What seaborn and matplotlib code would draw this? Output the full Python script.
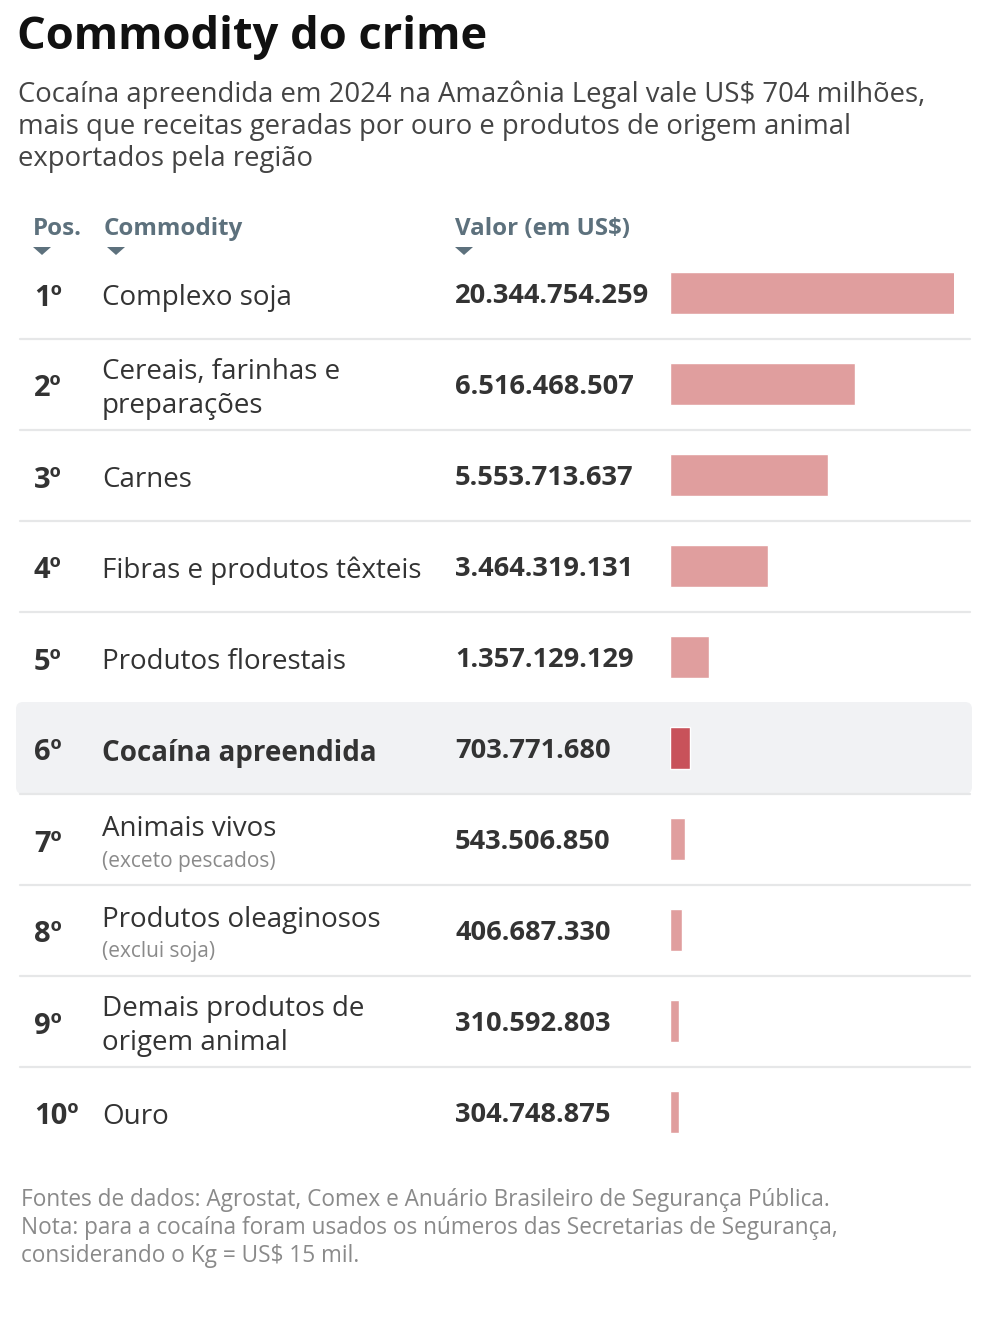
import matplotlib
matplotlib.use("Agg")
import matplotlib.pyplot as plt
from matplotlib.patches import FancyBboxPatch, Polygon
import seaborn as sns
import pandas as pd

# data
posicoes = ["1º", "2º", "3º", "4º", "5º", "6º", "7º", "8º", "9º", "10º"]
commodities = [
    "Complexo soja",
    "Cereais, farinhas e\npreparações",
    "Carnes",
    "Fibras e produtos têxteis",
    "Produtos florestais",
    "Cocaína apreendida",
    "Animais vivos",
    "Produtos oleaginosos",
    "Demais produtos de\norigem animal",
    "Ouro",
]
notas = ["", "", "", "", "", "", "(exceto pescados)", "(exclui soja)", "", ""]
valores = [20344754259, 6516468507, 5553713637, 3464319131, 1357129129,
           703771680, 543506850, 406687330, 310592803, 304748875]
destaque = [False] * 5 + [True] + [False] * 4

titulo = "Commodity do crime"
subtitulo = ("Cocaína apreendida em 2024 na Amazônia Legal vale US$ 704 milhões,\n"
             "mais que receitas geradas por ouro e produtos de origem animal\n"
             "exportados pela região")
rodape = ("Fontes de dados: Agrostat, Comex e Anuário Brasileiro de Segurança Pública.\n"
          "Nota: para a cocaína foram usados os números das Secretarias de Segurança,\n"
          "considerando o Kg = US$ 15 mil.")

df = pd.DataFrame({"pos": posicoes, "commodity": commodities, "valor": valores,
                   "destaque": destaque})

sns.set_style("white")
plt.rcParams["font.family"] = ["Open Sans", "DejaVu Sans"]

W, H = 984, 1333
fig = plt.figure(figsize=(W / 100, H / 100), dpi=100)

# background axes in pixel coords
bg = fig.add_axes([0, 0, 1, 1])
bg.set_xlim(0, W)
bg.set_ylim(H, 0)
bg.axis("off")

dark = "#333333"
slate = "#5d717d"
grey = "#8a8a8a"

bg.text(17, 38, titulo, fontsize=32.6, fontweight="bold", color="#111111", va="center")
bg.text(18, 127, subtitulo, fontsize=19.8, color="#444444", va="center", linespacing=1.2)

# header
for x, lab in [(33, "Pos."), (104, "Commodity"), (455, "Valor (em US$)")]:
    bg.text(x, 229, lab, fontsize=17.4, fontweight="bold", color=slate, va="center")
for x in [42, 116, 464]:
    bg.add_patch(Polygon([(x - 9, 247), (x + 9, 247), (x, 255)], closed=True,
                         facecolor=slate, edgecolor="none"))

row0, pitch = 293, 91
n = len(df)

# highlighted row
hi = df.index[df["destaque"]][0]
yc = row0 + hi * pitch
bg.add_patch(FancyBboxPatch((16, yc - 46), 956, 92,
                            boxstyle="round,pad=0,rounding_size=7",
                            facecolor="#f1f2f4", edgecolor="none", zorder=0))

# separators
for i in range(n - 1):
    if i == hi - 1:
        continue
    y = row0 + (i + 0.5) * pitch
    bg.plot([20, 970], [y, y], color="#e6e7e8", lw=1.6, zorder=1)

def fmt(v):
    return f"{v:,}".replace(",", ".")

for i, r in df.iterrows():
    y = row0 + i * pitch
    w = "bold" if r["destaque"] else "normal"
    bg.text(34, y + 5, r["pos"], fontsize=21, fontweight="bold", color=dark, va="center")
    if notas[i]:
        bg.text(102, y - 10, r["commodity"], fontsize=20, color=dark, va="center")
        bg.text(102, y + 22, notas[i], fontsize=15, color=grey, va="center")
    else:
        bg.text(102, y + 5, r["commodity"], fontsize=20, color=dark, va="center",
                fontweight=w, linespacing=1.25)
    bg.text(455, y + 3, fmt(r["valor"]), fontsize=19.6, fontweight="bold", color=dark,
            va="center")

bg.text(21, 1228, rodape, fontsize=16.3, color=grey, va="center", linespacing=1.2)

# bars
top = row0 - pitch / 2
bot = row0 + (n - 0.5) * pitch
ax = fig.add_axes([670 / W, 1 - bot / H, 284 / W, (bot - top) / H], zorder=2)
ax.patch.set_alpha(0)
sns.barplot(data=df, y="commodity", x="valor", hue="destaque", orient="h",
            palette={False: "#e09e9e", True: "#c8525a"}, width=0.47, dodge=False,
            legend=False, ax=ax, saturation=1)
ax.set_xlim(0, 1e10)
ax.set_ylim(n - 0.5, -0.5)
ax.axis("off")

fig.savefig("out.png", dpi=100)
